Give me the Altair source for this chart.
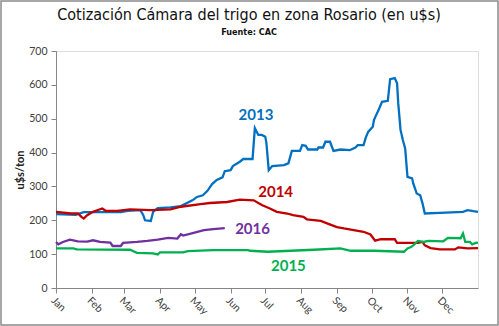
import altair as alt
import pandas as pd

# Day of year (x) and price in u$s/ton (y) for each campaign year
days_2013 = [0, 17, 24, 56, 62, 73, 75.5, 77, 82, 84, 88, 99, 108, 118, 122, 127, 131, 135, 139, 144, 146, 151, 153, 159, 162, 170, 172, 175, 178, 181, 182, 184, 187, 197, 201, 204, 211, 213, 216, 218, 226, 227, 231, 233, 237, 240, 246, 254, 259, 261, 266, 268, 270, 274, 275, 276, 279, 282, 287, 289, 293, 295, 296, 298, 300, 302, 304, 308, 309, 312, 315, 317, 319, 332, 352, 356, 361, 365]
vals_2013 = [218, 216, 224, 224, 228, 230, 215, 200, 198, 225, 236, 238, 242, 259, 269, 274, 287, 307, 319, 327, 345, 348, 360, 373, 381, 381, 472, 452, 452, 447, 428, 348, 360, 363, 368, 405, 405, 422, 420, 409, 409, 415, 415, 432, 432, 405, 409, 407, 415, 422, 422, 445, 461, 476, 496, 504, 526, 550, 553, 617, 620, 605, 546, 467, 437, 412, 328, 324, 309, 279, 274, 250, 220, 222, 225, 230, 227, 225]

days_2014 = [0, 13, 19, 22, 24, 27, 32, 40, 43, 53, 64, 82, 99, 108, 125, 133, 148, 159, 171, 178, 185, 191, 200, 205, 214, 217, 229, 235, 243, 249, 266, 272, 276, 281, 293, 295, 313, 317, 319, 324, 332, 345, 348, 356, 365]
vals_2014 = [225, 220, 220, 210, 205, 215, 225, 235, 228, 228, 232, 230, 232, 240, 248, 251, 254, 261, 259, 245, 235, 225, 220, 215, 210, 203, 198, 190, 180, 176, 166, 158, 140, 144, 144, 133, 133, 136, 126, 118, 114, 114, 120, 117, 118]

days_2015 = [0, 15, 18, 64, 70, 84, 88, 90, 110, 114, 136, 166, 168, 183, 203, 223, 246, 255, 275, 301, 304, 307, 309, 313, 318, 322, 335, 339, 350, 352, 354, 358, 360, 363, 365]
vals_2015 = [117, 117, 114, 113, 104, 102, 99, 105, 105, 109, 112, 112, 110, 107, 110, 113, 117, 110, 110, 107, 117, 121, 126, 139, 136, 139, 138, 148, 147, 161, 136, 136, 129, 133, 134]

days_2016 = [0, 2, 6, 12, 19, 27, 32, 38, 47, 49, 56, 58, 70, 79, 88, 97, 105, 108, 110, 119, 128, 136, 146]
vals_2016 = [136, 129, 136, 143, 138, 137, 141, 136, 134, 124, 124, 133, 136, 139, 143, 148, 146, 159, 155, 163, 171, 174, 177]

series_names = ["2013", "2014", "2015", "2016"]
series_colors = ["#0070C0", "#C00000", "#00B050", "#7030A0"]

# Series label annotations (day, value)
label_days = [173, 190, 201, 170]
label_vals = [511, 283, 64, 174]

month_ticks = [0, 31, 59, 90, 120, 151, 181, 212, 243, 273, 304, 334]
month_names = ["Jan", "Feb", "Mar", "Apr", "May", "Jun", "Jul", "Aug", "Sep", "Oct", "Nov", "Dec"]
y_ticks = [0, 100, 200, 300, 400, 500, 600, 700]

rows = []
for name, ds, vs in [("2013", days_2013, vals_2013), ("2014", days_2014, vals_2014),
                     ("2015", days_2015, vals_2015), ("2016", days_2016, vals_2016)]:
    for i, (d, v) in enumerate(zip(ds, vs)):
        rows.append({"serie": name, "dia": d, "valor": v, "orden": i})
df = pd.DataFrame(rows)

labels_df = pd.DataFrame({"serie": series_names, "dia": label_days, "valor": label_vals})

label_expr = "{" + ",".join(f"'{t}':'{m}'" for t, m in zip(month_ticks, month_names)) + "}[datum.value]"

color_scale = alt.Scale(domain=series_names, range=series_colors)

x_enc = alt.X("dia:Q", scale=alt.Scale(domain=[0, 365], nice=False, zero=False),
              axis=alt.Axis(values=month_ticks, labelExpr=label_expr, labelAngle=45,
                            labelAlign="left", labelBaseline="top", grid=False,
                            domainColor="#868686", tickColor="#868686", tickSize=5,
                            labelFont="Lato", labelFontSize=10.5, labelColor="#404040",
                            labelPadding=2, title=None, labelOverlap=False, labelFlush=False))
y_enc = alt.Y("valor:Q", scale=alt.Scale(domain=[0, 700], nice=False),
              axis=alt.Axis(values=y_ticks, grid=False,
                            domainColor="#868686", tickColor="#868686", tickSize=5,
                            labelFont="Lato", labelFontSize=10.5, labelColor="#404040",
                            labelPadding=4, title="u$s/ton", titleFont="Lato",
                            titleFontSize=11, titleFontWeight="bold", titleColor="#202020",
                            titlePadding=3, labelOverlap=False, labelFlush=False))

lines = alt.Chart(df).mark_line(strokeWidth=2.3, interpolate="linear").encode(
    x=x_enc, y=y_enc,
    color=alt.Color("serie:N", scale=color_scale, legend=None),
    order="orden:Q",
)

texts = alt.Chart(labels_df).mark_text(font="Lato", fontSize=15, fontWeight="bold").encode(
    x=x_enc, y=y_enc,
    text="serie:N",
    color=alt.Color("serie:N", scale=color_scale, legend=None),
)

frame = alt.Chart(pd.DataFrame({"a": [0]})).mark_rect(
    fill=None, stroke="#8a8a8a", strokeWidth=1.5, clip=False
).encode(x=alt.value(-55), x2=alt.value(442), y=alt.value(-50), y2=alt.value(274))

chart = alt.layer(lines, texts, frame).properties(
    width=422, height=237,
    autosize=alt.AutoSizeParams(type="none"),
    padding={"left": 56, "top": 51, "right": 21, "bottom": 38},
    title=alt.TitleParams(
        text="Cotización Cámara del trigo en zona Rosario (en u$s)",
        subtitle="Fuente: CAC",
        anchor="middle", frame="group", dx=-18, offset=-37,
        font="DejaVu Sans Condensed", fontSize=16, fontWeight="normal", color="#111111",
        subtitleFont="DejaVu Sans Condensed", subtitleFontSize=9,
        subtitleFontWeight="bold", subtitleColor="#111111", subtitlePadding=5,
    ),
).configure_view(stroke=None).configure(background="white")

chart.save("out.html", embed_options={"renderer": "svg", "actions": False})
